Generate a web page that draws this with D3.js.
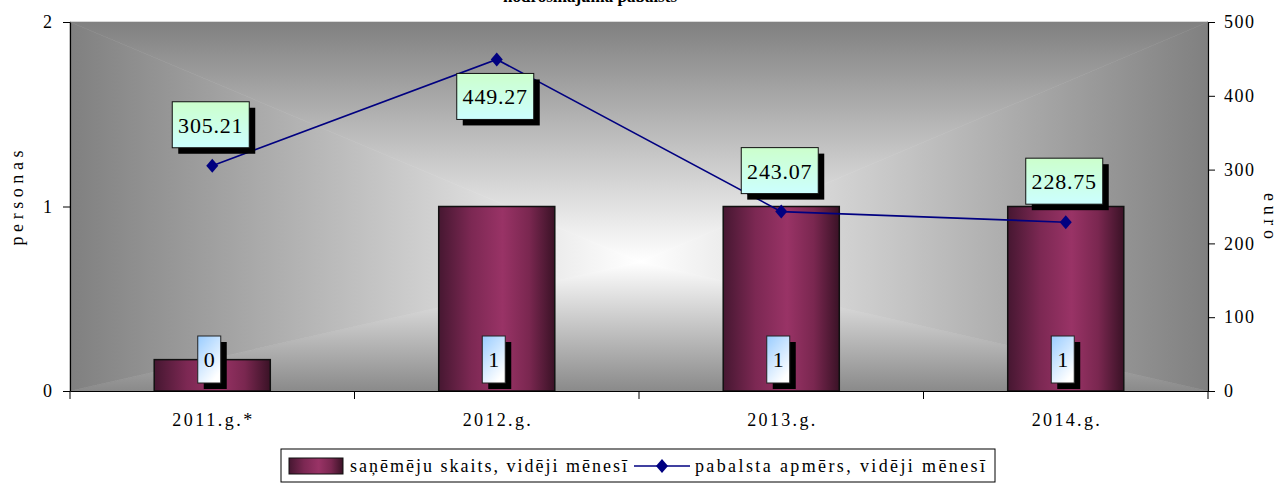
<!DOCTYPE html>
<html>
<head>
<meta charset="utf-8">
<script src="https://cdn.jsdelivr.net/npm/d3@7"></script>
<style>
  html, body { margin: 0; padding: 0; background: #ffffff; }
  svg { display: block; }
  text { font-family: "Liberation Serif", "Times New Roman", serif; fill: #000; }
</style>
</head>
<body>
<svg id="chart" width="1279" height="486"></svg>
<script>
// Data
const categories = ["2011.g.*", "2012.g.", "2013.g.", "2014.g."];
const recipients = [0.17, 1, 1, 1];            // saņēmēju skaits, vidēji mēnesī (personas)
const benefit = [305.21, 449.27, 243.07, 228.75]; // pabalsta apmērs, vidēji mēnesī (euro)
const leftTicks = [0, 1, 2];
const rightTicks = [0, 100, 200, 300, 400, 500];
const seriesNames = ["saņēmēju skaits, vidēji mēnesī", "pabalsta apmērs, vidēji mēnesī"];
const titleText = "nodrošinājuma pabalsts";

// Layout
const W = 1279, H = 486;
const plot = { left: 70, right: 1208, top: 22, bottom: 391 };
const labelBelow = [false, true, false, false]; // value box placed under the point

const svg = d3.select("#chart");
const defs = svg.append("defs");

// Gradients
const barGrad = defs.append("linearGradient").attr("id", "barGrad")
  .attr("x1", "0").attr("y1", "0").attr("x2", "1").attr("y2", "0");
[[0, "#461731"], [0.28, "#7c2853"], [0.55, "#993366"], [0.78, "#7a2750"], [1, "#3a1226"]]
  .forEach(([o, c]) => barGrad.append("stop").attr("offset", o).attr("stop-color", c));

const valGrad = defs.append("linearGradient").attr("id", "valGrad")
  .attr("x1", "0").attr("y1", "0").attr("x2", "0").attr("y2", "1");
valGrad.append("stop").attr("offset", 0).attr("stop-color", "#ccffcc");
valGrad.append("stop").attr("offset", 1).attr("stop-color", "#ccffff");

const cntGrad = defs.append("linearGradient").attr("id", "cntGrad")
  .attr("x1", "0").attr("y1", "0").attr("x2", "0.6").attr("y2", "1");
cntGrad.append("stop").attr("offset", 0).attr("stop-color", "#99ccff");
cntGrad.append("stop").attr("offset", 1).attr("stop-color", "#ffffff");

// Scales
const x = d3.scaleBand().domain(categories)
  .range([plot.left, plot.right]).paddingInner(0.592).paddingOuter(0.296);
const yL = d3.scaleLinear().domain([0, 2]).range([plot.bottom, plot.top]);
const yR = d3.scaleLinear().domain([0, 500]).range([plot.bottom, plot.top]);
const cx = c => x(c) + x.bandwidth() / 2;

// Plot background: rectangular gradient from the centre outward
const bg = svg.append("g");
const C = [640, 262];
const TL = [plot.left, plot.top], TR = [plot.right, plot.top],
      BL = [plot.left, plot.bottom], BR = [plot.right, plot.bottom];
const edge = "#808080", mid = "#ffffff";
function sideGrad(id, x1, y1, x2, y2, from) {
  const g = defs.append("linearGradient").attr("id", id)
    .attr("gradientUnits", "userSpaceOnUse")
    .attr("x1", x1).attr("y1", y1).attr("x2", x2).attr("y2", y2);
  g.append("stop").attr("offset", 0).attr("stop-color", from || edge);
  g.append("stop").attr("offset", 1).attr("stop-color", mid);
}
sideGrad("gTop", 0, plot.top, 0, C[1]);
sideGrad("gBot", 0, plot.bottom, 0, C[1], "#8a8a8a");
sideGrad("gLeft", plot.left, 0, C[0], 0);
sideGrad("gRight", plot.right, 0, C[0], 0);
const tri = (pts, fill) => bg.append("path")
  .attr("d", "M" + pts.map(p => p.join(",")).join("L") + "Z")
  .attr("fill", fill).attr("stroke", fill).attr("stroke-width", 0.6);
tri([TL, TR, C], "url(#gTop)");
tri([BL, BR, C], "url(#gBot)");
tri([TL, BL, C], "url(#gLeft)");
tri([TR, BR, C], "url(#gRight)");

// Title (runs off the top edge)
svg.append("text").attr("x", 503).attr("y", 1.5)
  .attr("font-size", 17).attr("font-weight", "bold").text(titleText);

// Bars
svg.append("g").selectAll("rect").data(categories).join("rect")
  .attr("x", c => x(c)).attr("width", x.bandwidth())
  .attr("y", (c, i) => yL(recipients[i]))
  .attr("height", (c, i) => yL(0) - yL(recipients[i]))
  .attr("fill", "url(#barGrad)").attr("stroke", "#111").attr("stroke-width", 1.5);

// Count labels inside bars
const fmtCount = d3.format(".0f");
const cnt = svg.append("g").selectAll("g").data(categories).join("g")
  .attr("transform", c => `translate(${cx(c) - 3},${yL(0) - 8})`);
cnt.append("rect").attr("x", -11.5 + 6).attr("y", -47 + 6).attr("width", 23).attr("height", 47).attr("fill", "#000");
cnt.append("rect").attr("x", -11.5).attr("y", -47).attr("width", 23).attr("height", 47)
  .attr("fill", "url(#cntGrad)").attr("stroke", "#222").attr("stroke-width", 1);
cnt.append("text").attr("x", 0).attr("y", -16).attr("text-anchor", "middle")
  .attr("font-size", 22).text((c, i) => fmtCount(recipients[i]));

// Line series
const line = d3.line().x((d, i) => cx(categories[i])).y(d => yR(d));
svg.append("path").datum(benefit).attr("d", line)
  .attr("fill", "none").attr("stroke", "#000080").attr("stroke-width", 1.6);
svg.append("g").selectAll("path").data(benefit).join("path")
  .attr("transform", (d, i) => `translate(${cx(categories[i])},${yR(d)})`)
  .attr("d", "M0,-7L6,0L0,7L-6,0Z").attr("fill", "#000080");

// Value labels
const fmtVal = d3.format(".2f");
const vl = svg.append("g").selectAll("g").data(benefit).join("g")
  .attr("transform", (d, i) => {
    const top = labelBelow[i] ? yR(d) + 14 : yR(d) - 18 - 46;
    return `translate(${cx(categories[i]) - 1.5 - 38.5},${top})`;
  });
vl.append("rect").attr("x", 6).attr("y", 6).attr("width", 77).attr("height", 46).attr("fill", "#000");
vl.append("rect").attr("width", 77).attr("height", 46)
  .attr("fill", "url(#valGrad)").attr("stroke", "#111").attr("stroke-width", 1);
vl.append("text").attr("x", 38.5).attr("y", 31).attr("text-anchor", "middle")
  .attr("font-size", 22).attr("letter-spacing", 0.8).text(d => fmtVal(d));

// Axes
const axisStyle = g => {
  g.attr("font-family", null);
  g.selectAll(".domain").attr("stroke", "#000").attr("stroke-width", 1.2);
  g.selectAll(".tick line").attr("stroke", "#000");
  g.selectAll("text").attr("font-size", 18).attr("fill", "#000");
};
svg.append("g").attr("transform", `translate(${plot.left},0)`)
  .call(d3.axisLeft(yL).tickValues(leftTicks).tickFormat(d3.format("d")).tickSize(7).tickSizeOuter(0).tickPadding(11))
  .call(axisStyle);
svg.append("g").attr("transform", `translate(${plot.right},0)`)
  .call(d3.axisRight(yR).tickValues(rightTicks).tickFormat(d3.format("d")).tickSize(7).tickSizeOuter(0).tickPadding(9))
  .call(axisStyle)
  .call(g => g.selectAll("text").attr("letter-spacing", 1.5));

// Category axis: labels centred, ticks on band boundaries
const xAxis = svg.append("g").attr("transform", `translate(0,${plot.bottom})`)
  .call(d3.axisBottom(x).tickSize(0).tickPadding(22))
  .call(axisStyle);
xAxis.selectAll(".tick text").each(function(c) {
  d3.select(this).attr("textLength", c.length > 7 ? 80 : 68).attr("lengthAdjust", "spacing");
});
const step = x.step();
const bounds = categories.map(c => cx(c) - step / 2).concat([cx(categories[categories.length - 1]) + step / 2]);
xAxis.selectAll(".bnd").data(bounds).join("line").attr("class", "bnd")
  .attr("x1", d => d).attr("x2", d => d).attr("y1", 0).attr("y2", 8)
  .attr("stroke", "#000");

// Axis titles
svg.append("text").attr("transform", `translate(23,198) rotate(-90)`)
  .attr("text-anchor", "middle").attr("font-size", 18)
  .attr("textLength", 95).attr("lengthAdjust", "spacing").text("personas");
svg.append("text").attr("transform", `translate(1264,216) rotate(90)`)
  .attr("text-anchor", "middle").attr("font-size", 18)
  .attr("textLength", 46).attr("lengthAdjust", "spacing").text("euro");

// Legend
const lg = svg.append("g");
lg.append("rect").attr("x", 281).attr("y", 449).attr("width", 714).attr("height", 33)
  .attr("fill", "#fff").attr("stroke", "#000").attr("stroke-width", 1);
lg.append("rect").attr("x", 289).attr("y", 458).attr("width", 54).attr("height", 16)
  .attr("fill", "url(#barGrad)").attr("stroke", "#111").attr("stroke-width", 1);
lg.append("text").attr("x", 350).attr("y", 472).attr("font-size", 18)
  .attr("textLength", 277).attr("lengthAdjust", "spacing").text(seriesNames[0]);
lg.append("line").attr("x1", 634).attr("x2", 690).attr("y1", 466).attr("y2", 466)
  .attr("stroke", "#000080").attr("stroke-width", 1.6);
lg.append("path").attr("transform", "translate(662,466)")
  .attr("d", "M0,-7L6,0L0,7L-6,0Z").attr("fill", "#000080");
lg.append("text").attr("x", 695).attr("y", 472).attr("font-size", 18)
  .attr("textLength", 290).attr("lengthAdjust", "spacing").text(seriesNames[1]);
</script>
</body>
</html>
